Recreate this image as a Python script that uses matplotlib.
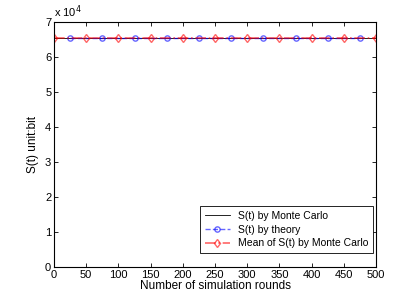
import matplotlib
matplotlib.use("Agg")
from matplotlib import pyplot

# simulation rounds and S(t) values (bits)
mc_rounds = [0, 25, 50, 75, 100, 125, 150, 175, 200, 225, 250, 275, 300,
             325, 350, 375, 400, 425, 450, 475, 500]
mc_values = [65536] * len(mc_rounds)
theory_rounds = [25, 75, 125, 175, 225, 275, 325, 375, 425, 475]
theory_values = [65536] * len(theory_rounds)
mean_rounds = [0, 50, 100, 150, 200, 250, 300, 350, 400, 450, 500]
mean_values = [65536] * len(mean_rounds)

x_ticks = [0, 50, 100, 150, 200, 250, 300, 350, 400, 450, 500]
y_ticks = [0, 1, 2, 3, 4, 5, 6, 7]

pyplot.rcParams['font.family'] = ['Liberation Sans', 'DejaVu Sans']
fontsize = 8

fig = pyplot.figure(figsize=(4.15, 3.01), dpi=100)
axes = fig.add_axes((54 / 415, 1 - 267 / 301, 322 / 415, 245 / 301))

axes.plot(mc_rounds, mc_values, color='black', linestyle='-', linewidth=0.6,
          label='S(t) by Monte Carlo')
axes.plot(theory_rounds, theory_values, color='blue', alpha=0.6,
          linestyle='--', linewidth=1.0, marker='o', markersize=3.8,
          markerfacecolor='none', markeredgewidth=1.0,
          label='S(t) by theory')
axes.plot(mean_rounds, mean_values, color='red', alpha=0.6,
          linestyle='-.', linewidth=1.2, marker='d', markersize=4.5,
          markerfacecolor='none', markeredgewidth=1.0,
          label='Mean of S(t) by Monte Carlo')

axes.set_xlim(0, 500)
axes.set_ylim(0, 70000)
axes.set_xticks(x_ticks)
axes.set_yticks([v * 1e4 for v in y_ticks])
axes.set_yticklabels([str(v) for v in y_ticks])
axes.tick_params(direction='in', top=True, right=True, labelsize=fontsize,
                 length=3, width=0.6, pad=2)
for spine in axes.spines.values():
    spine.set_linewidth(0.8)

axes.text(0.0, 1.01, r'x 10$^4$', transform=axes.transAxes,
          fontsize=fontsize, ha='left', va='bottom')

axes.set_xlabel('Number of simulation rounds', fontsize=fontsize + 0.5,
                labelpad=0)
axes.set_ylabel('S(t) unit:bit', fontsize=fontsize + 0.5, labelpad=4)

leg = axes.legend(loc='lower right', bbox_to_anchor=(0.991, 0.057),
                  fontsize=fontsize - 0.5, fancybox=False,
                  framealpha=1, edgecolor='black', borderaxespad=0.0,
                  handlelength=2.4, labelspacing=0.35, borderpad=0.45)
leg.get_frame().set_linewidth(0.6)

fig.savefig('out.png', dpi=100)
